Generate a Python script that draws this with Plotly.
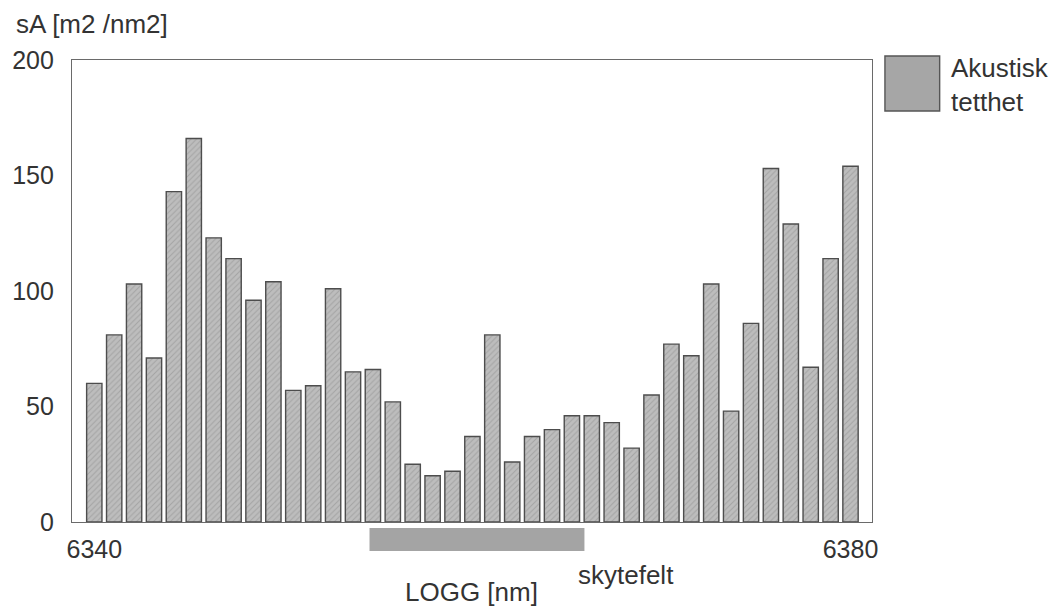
import plotly.graph_objects as go

# Acoustic density (sA) per logged nautical-mile interval
bar_index = list(range(39))
sa_values = [60, 81, 103, 71, 143, 166, 123, 114, 96, 104, 57, 59, 101, 65, 66, 52,
             25, 20, 22, 37, 81, 26, 37, 40, 46, 46, 43, 32, 55, 77, 72, 103, 48,
             86, 153, 129, 67, 114, 154]
x_tick_vals = [0, 38]
x_tick_text = ["6340", "6380"]
y_tick_vals = [0, 50, 100, 150, 200]
series_name = "Akustisk<br>tetthet"
# Extent of the firing range along the log (bar index units)
skytefelt_span = [13.83, 24.63]

W, H = 1061, 609
L, R, T, B = 68, 872, 60, 522
FONT = "Arial, Liberation Sans, Helvetica, sans-serif"
TXT = "#333333"


def px_x(p):
    return (p - L) / (R - L)


def px_y(p):
    return (B - p) / (B - T)


fig = go.Figure()
fig.add_trace(go.Bar(
    x=bar_index,
    y=sa_values,
    width=0.77,
    marker=dict(
        color="#b5b5b5",
        line=dict(color="#4d4d4d", width=1.4),
        pattern=dict(shape="/", fgcolor="#8a8a8a", bgcolor="#bdbdbd",
                     size=4, solidity=0.25),
    ),
    showlegend=False,
))

fig.update_layout(
    width=W, height=H,
    margin=dict(l=L, r=W - R, t=T, b=H - B),
    paper_bgcolor="white", plot_bgcolor="white",
    font=dict(family=FONT, size=25, color=TXT),
    bargap=0.23,
    xaxis=dict(range=[-1.12, 39.08], tickvals=x_tick_vals, ticktext=x_tick_text,
               showgrid=False, zeroline=False, showline=True, mirror=True,
               linecolor="#6a6a6a", linewidth=1.2, ticks="", ticklabelstandoff=5,
               tickfont=dict(size=25, color=TXT)),
    yaxis=dict(range=[0, 200], tickvals=y_tick_vals, showgrid=False, zeroline=False,
               showline=True, mirror=True, linecolor="#6a6a6a", linewidth=1.2,
               ticks="", ticklabelstandoff=12, tickfont=dict(size=25, color=TXT)),
)

# Firing-range marker under the axis
fig.add_shape(type="rect", xref="x", yref="paper",
              x0=skytefelt_span[0], x1=skytefelt_span[1],
              y0=px_y(551), y1=px_y(528),
              fillcolor="#a4a4a4", line=dict(width=0), layer="above")

# Legend swatch and label
fig.add_shape(type="rect", xref="paper", yref="paper",
              x0=px_x(885), x1=px_x(940), y0=px_y(111), y1=px_y(56),
              fillcolor="#a6a6a6", line=dict(color="#555555", width=1.4))
fig.add_annotation(xref="paper", yref="paper", x=px_x(949), y=px_y(85),
                   xanchor="left", yanchor="middle", text=series_name,
                   showarrow=False, align="left",
                   font=dict(size=26, color=TXT, family=FONT))

# Axis titles and field label
fig.add_annotation(xref="paper", yref="paper", x=px_x(10), y=px_y(24),
                   xanchor="left", yanchor="middle", text="sA [m2 /nm2]",
                   showarrow=False, font=dict(size=26, color=TXT, family=FONT))
fig.add_annotation(xref="paper", yref="paper", x=px_x(469), y=px_y(592),
                   xanchor="center", yanchor="middle", text="LOGG [nm]",
                   showarrow=False, font=dict(size=26, color=TXT, family=FONT))
fig.add_annotation(xref="paper", yref="paper", x=px_x(625), y=px_y(575),
                   xanchor="center", yanchor="middle", text="skytefelt",
                   showarrow=False, font=dict(size=26, color=TXT, family=FONT))

fig.write_html("out.html")
